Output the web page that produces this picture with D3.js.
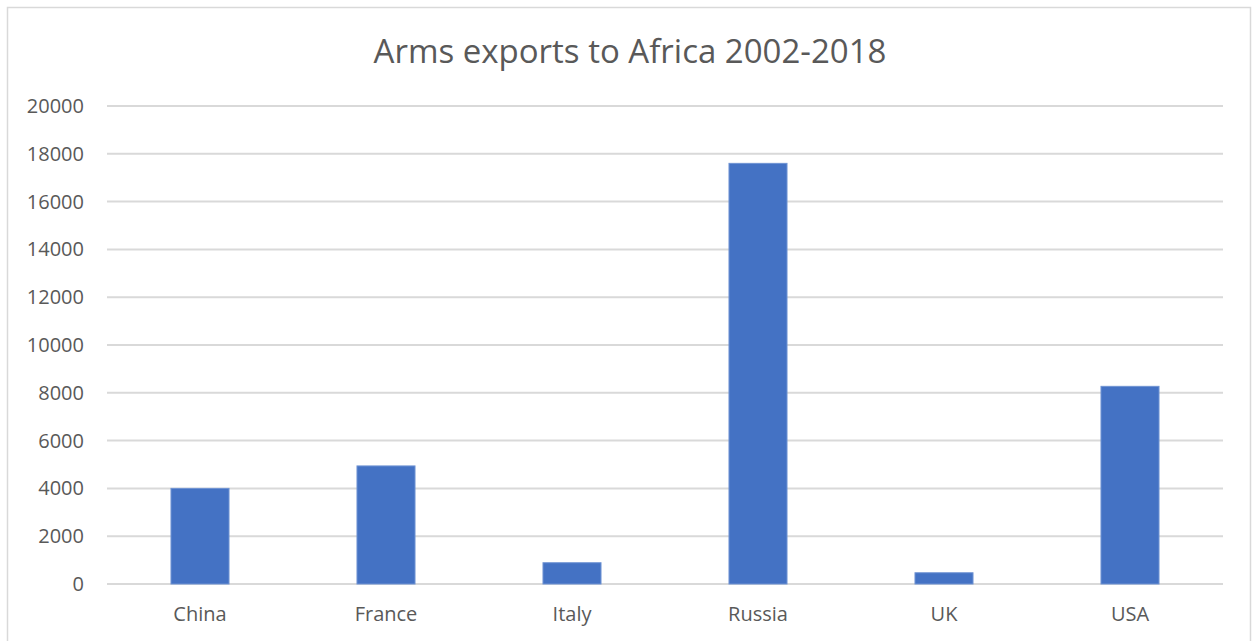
<!DOCTYPE html>
<meta charset="utf-8">
<script src="https://d3js.org/d3.v7.min.js"></script>
<style>
    body { margin: 0; background: #fff; }
    text { font-family: "Open Sans", sans-serif; fill: #595959; }
</style>
<div id="chart"></div>
<script>
    // data
    var countries = ["China", "France", "Italy", "Russia", "UK", "USA"];
    var exportsValues = [4000, 4940, 890, 17600, 470, 8270];
    var yTicks = [0, 2000, 4000, 6000, 8000, 10000, 12000, 14000, 16000, 18000, 20000];
    var chartTitle = "Arms exports to Africa 2002-2018";

    var width = 1252, height = 641;
    var plotLeft = 107, plotRight = 1223, plotTop = 106, plotBottom = 584;

    var svg = d3.select("#chart").append("svg")
        .attr("width", width)
        .attr("height", height);

    // chart border
    svg.append("rect")
        .attr("x", 7.5).attr("y", 7.5)
        .attr("width", 1243).attr("height", 640)
        .attr("fill", "none")
        .attr("stroke", "#d9d9d9")
        .attr("stroke-width", 1.5);

    var x = d3.scaleBand()
        .domain(countries)
        .range([plotLeft, plotRight])
        .paddingInner(0.688)
        .paddingOuter(0.344);

    var y = d3.scaleLinear()
        .domain([0, 20000])
        .range([plotBottom, plotTop]);

    // gridlines
    svg.selectAll(".grid")
        .data(yTicks)
        .enter()
        .append("line")
        .attr("x1", plotLeft).attr("x2", plotRight)
        .attr("y1", d => y(d)).attr("y2", d => y(d))
        .attr("stroke", "#d9d9d9")
        .attr("stroke-width", 2);

    // y labels
    svg.selectAll(".ylab")
        .data(yTicks)
        .enter()
        .append("text")
        .attr("x", 84)
        .attr("y", d => y(d) + 7)
        .attr("text-anchor", "end")
        .style("font-size", "20px")
        .text(d => d);

    // bars
    svg.selectAll(".bar")
        .data(exportsValues)
        .enter()
        .append("rect")
        .attr("x", (d, i) => x(countries[i]))
        .attr("y", d => y(d))
        .attr("width", x.bandwidth())
        .attr("height", d => plotBottom - y(d))
        .attr("fill", "#4472c4")
        .attr("stroke", "#6f93d3")
        .attr("stroke-width", 1);

    // category labels
    svg.selectAll(".xlab")
        .data(countries)
        .enter()
        .append("text")
        .attr("x", d => x(d) + x.bandwidth() / 2)
        .attr("y", 621)
        .attr("text-anchor", "middle")
        .style("font-size", "20px")
        .text(d => d);

    // title
    svg.append("text")
        .attr("x", 630)
        .attr("y", 63)
        .attr("text-anchor", "middle")
        .style("font-size", "33px")
        .text(chartTitle);
</script>
